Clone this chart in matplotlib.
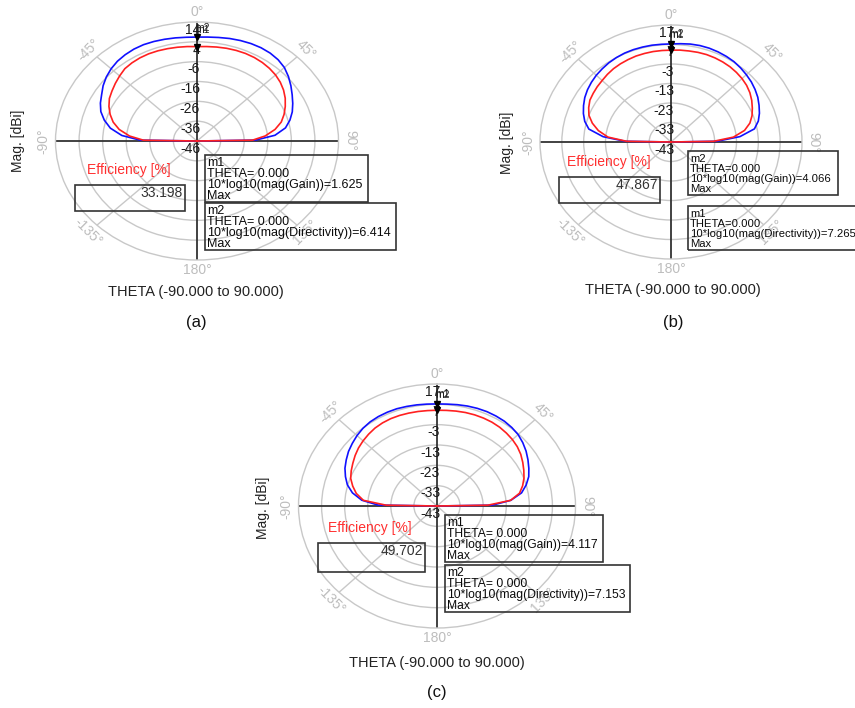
import numpy as np
import matplotlib
matplotlib.use('Agg')
import matplotlib.pyplot as plt
from matplotlib.patches import Rectangle

plt.rcParams['font.family'] = ['Liberation Sans', 'DejaVu Sans']

W, H = 855, 708

# ---------------- data ----------------
theta_deg = [-90, -89, -85, -80, -75, -70, -65, -60, -55, -50, -45, -40, -35, -30,
             -25, -20, -15, -10, -5, 0, 5, 10, 15, 20, 25, 30, 35, 40, 45, 50,
             55, 60, 65, 70, 75, 80, 85, 89, 90]

a_directivity = [-46.0, -21.9, -14.0, -8.7, -5.3, -2.6, -0.8, 0.7, 2.6, 4.2, 5.5, 6.5, 7.1, 7.5,
                 7.6, 7.4, 7.1, 6.8, 6.5, 6.4, 6.6, 7.0, 7.5, 7.9, 8.2, 8.3, 8.1, 7.5, 6.4, 4.6,
                 2.6, 0.6, -1.2, -3.0, -5.2, -7.9, -12.8, -21.2, -46.0]
a_gain = [-46.0, -23.3, -17.3, -12.5, -9.2, -6.8, -4.8, -3.1, -2.0, -0.8, 0.4, 1.6, 2.1, 2.4,
          2.5, 2.4, 2.2, 2.0, 1.8, 1.6, 1.8, 2.1, 2.4, 2.6, 2.7, 2.6, 2.3, 1.8, 1.1, 0.1,
          -1.2, -2.8, -4.7, -6.7, -9.0, -12.4, -17.0, -22.5, -46.0]

b_directivity = [-43.0, -22.0, -11.8, -4.8, -2.1, -0.3, 1.2, 2.6, 3.7, 4.6, 5.4, 6.0, 6.6, 7.0,
                 7.3, 7.4, 7.4, 7.4, 7.3, 7.3, 7.6, 8.0, 8.2, 8.2, 8.0, 7.7, 7.3, 6.6, 5.8, 5.0,
                 4.0, 2.9, 1.5, 0.1, -1.6, -4.2, -11.3, -22.0, -43.0]
b_gain = [-43.0, -22.7, -14.0, -9.2, -5.7, -3.0, -1.4, -0.1, 0.5, 1.1, 1.6, 2.3, 2.9, 3.3,
          3.6, 3.9, 4.0, 4.1, 4.1, 4.1, 4.3, 4.4, 4.6, 4.7, 4.6, 4.4, 4.1, 3.6, 3.0, 2.2,
          1.1, -0.3, -1.9, -3.5, -5.6, -8.8, -14.3, -23.6, -43.0]

c_directivity = [-43.0, -17.5, -10.3, -5.8, -2.8, -0.8, 1.0, 2.4, 3.8, 4.9, 6.0, 6.9, 7.5, 7.8,
                 7.9, 7.9, 7.7, 7.5, 7.3, 7.2, 7.3, 7.6, 7.9, 8.1, 8.2, 8.1, 7.9, 7.4, 6.7, 5.5,
                 4.1, 2.5, 0.9, -0.7, -3.0, -5.8, -10.9, -19.0, -43.0]
c_gain = [-43.0, -21.0, -11.0, -7.5, -5.2, -3.2, -2.0, -0.9, 0.3, 1.4, 2.3, 3.1, 3.8, 4.2,
          4.4, 4.4, 4.3, 4.2, 4.1, 4.1, 4.2, 4.4, 4.6, 4.7, 4.7, 4.6, 4.3, 3.8, 3.2, 2.4,
          1.3, -0.1, -1.5, -2.9, -4.6, -6.7, -11.0, -21.0, -43.0]

a_rings = [-46, -36, -26, -16, -6, 4, 14]
b_rings = [-43, -33, -23, -13, -3, 7, 17]
c_rings = [-43, -33, -23, -13, -3, 7, 17]

angle_ticks = [0, 45, 90, 135, 180, -135, -90, -45]
angle_labels = ['0°', '45°', '90°', '135°', '180°', '-135°', '-90°', '-45°']

a_efficiency = '33.198'
b_efficiency = '47.867'
c_efficiency = '49.702'

a_gain_max, a_dir_max = '1.625', '6.414'
b_gain_max, b_dir_max = '4.066', '7.265'
c_gain_max, c_dir_max = '4.117', '7.153'

# ---------------- drawing ----------------
fig = plt.figure(figsize=(W / 100, H / 100), dpi=100)
fig.patch.set_facecolor('white')

GRID = '#c8c8c8'
AXC = '#333333'


def fx(x):
    return x / W


def fy(y):
    return 1 - y / H


def polar_panel(cx, cy, rx, ry, rings, blue, red, blue_mark, red_mark):
    ax = fig.add_axes([(cx - rx) / W, 1 - (cy + ry) / H, 2 * rx / W, 2 * ry / H],
                      projection='polar')
    ax.set_aspect('auto')
    ax.set_theta_zero_location('N')
    ax.set_theta_direction(-1)
    rmin, rmax = rings[0], rings[-1]
    ax.set_ylim(rmin, rmax)
    ax.set_yticks(rings[1:-1])
    ax.set_yticklabels([])
    ax.set_xticks(np.deg2rad([45, 135, 225, 315]))
    ax.set_xticklabels([])
    ax.grid(True, color=GRID, lw=1.0)
    ax.spines['polar'].set_color(GRID)
    ax.spines['polar'].set_linewidth(1.0)
    ax.patch.set_alpha(0)

    # main axes lines
    ax.plot(np.deg2rad([0, 180]), [rmax, rmax], color=AXC, lw=1.3, zorder=2.5)
    ax.plot(np.deg2rad([-90, 90]), [rmax, rmax], color=AXC, lw=1.3, zorder=2.5)

    th = np.deg2rad(theta_deg)
    ax.plot(th, blue, color='#1010ff', lw=1.2, zorder=3)
    ax.plot(th, red, color='#ff2020', lw=1.2, zorder=4)

    # ring labels
    for v in rings:
        ax.annotate(str(v), xy=(0, v), xytext=(2.2, -0.5), textcoords='offset points',
                    ha='right', va='top', fontsize=10, color='#1a1a1a', zorder=5,
                    annotation_clip=False)

    # angle labels
    rlab = rmax + 0.085 * (rmax - rmin)
    for phi, lab in zip(angle_ticks, angle_labels):
        rot = -phi if abs(phi) <= 90 else -phi + 180
        if phi in (0, 180):
            rot = 0
        ax.text(np.deg2rad(phi), rlab, lab, rotation=rot, rotation_mode='anchor',
                ha='center', va='center', color='#bdbdbd', fontsize=10, clip_on=False)

    # markers
    i0 = theta_deg.index(0)
    ax.plot([0], [blue[i0]], marker='v', color='k', ms=4.5, zorder=6, clip_on=False)
    ax.plot([0], [red[i0]], marker='v', color='k', ms=4.5, zorder=6, clip_on=False)
    ax.annotate(blue_mark, xy=(0, blue[i0]), xytext=(-1, 3), textcoords='offset points',
                ha='left', va='bottom', fontsize=7.5, color='#222222', zorder=6,
                annotation_clip=False)
    ax.annotate(red_mark, xy=(0, red[i0]), xytext=(-1, 8), textcoords='offset points',
                ha='left', va='bottom', fontsize=7.5, color='#222222', zorder=6,
                annotation_clip=False)
    return ax


def box(x0, y0, x1, y1, lw=1.2):
    fig.add_artist(Rectangle((fx(x0), fy(y1)), (x1 - x0) / W, (y1 - y0) / H,
                             transform=fig.transFigure, fill=False, ec='#333333', lw=lw))


def marker_box(x0, y0, x1, y1, lines, fs):
    box(x0, y0, x1, y1)
    step = (y1 - y0 - 4) / 4.0
    for i, s in enumerate(lines):
        fig.text(fx(x0 + 2), fy(y0 + 8.3 + i * step), s, ha='left', va='center',
                 fontsize=fs, color='#0a0a0a')


def efficiency(lx, ly, x0, y0, x1, y1, val):
    fig.text(fx(lx), fy(ly), 'Efficiency [%]', color='#ff3030', fontsize=10,
             ha='left', va='center')
    box(x0, y0, x1, y1)
    fig.text(fx(x1 - 2), fy(y0 + 1), val, ha='right', va='top', fontsize=10,
             color='#333333')


def captions(cx, mag_x, mag_y, theta_y, letter, letter_y):
    fig.text(fx(mag_x), fy(mag_y), 'Mag. [dBi]', rotation=90, ha='center', va='center',
             fontsize=10, color='#222222')
    fig.text(fx(cx), fy(theta_y), 'THETA (-90.000 to 90.000)', ha='center', va='center',
             fontsize=10.5, color='#222222')
    fig.text(fx(cx), fy(letter_y), letter, ha='center', va='center', fontsize=12,
             color='#111111')


# (a)
polar_panel(197, 141, 141.5, 119, a_rings, a_directivity, a_gain, 'm2', 'm1')
efficiency(87, 170, 75, 185, 185, 211, a_efficiency)
marker_box(205, 155, 368, 202, ['m1', 'THETA= 0.000',
                                '10*log10(mag(Gain))=' + a_gain_max, 'Max'], 9)
marker_box(205, 203, 396, 250, ['m2', 'THETA= 0.000',
                                '10*log10(mag(Directivity))=' + a_dir_max, 'Max'], 9)
captions(196, 18, 141, 292, '(a)', 322)

# (b)
polar_panel(671, 142, 131, 117, b_rings, b_directivity, b_gain, 'm1', 'm2')
efficiency(567, 162, 559, 177, 660, 203, b_efficiency)
marker_box(688, 151, 838, 195, ['m2', 'THETA=0.000',
                                '10*log10(mag(Gain))=' + b_gain_max, 'Max'], 8.1)
marker_box(688, 206, 862, 250, ['m1', 'THETA=0.000',
                                '10*log10(mag(Directivity))=' + b_dir_max, 'Max'], 8.1)
captions(673, 507, 143, 290, '(b)', 322)

# (c)
polar_panel(437, 506, 138.5, 122, c_rings, c_directivity, c_gain, 'm2', 'm1')
efficiency(328, 528, 318, 543, 425, 572, c_efficiency)
marker_box(445, 515, 603, 562, ['m1', 'THETA= 0.000',
                                '10*log10(mag(Gain))=' + c_gain_max, 'Max'], 8.7)
marker_box(445, 565, 630, 612, ['m2', 'THETA= 0.000',
                                '10*log10(mag(Directivity))=' + c_dir_max, 'Max'], 8.7)
captions(437, 263, 508, 663, '(c)', 692)

fig.savefig('out.png', dpi=100)
